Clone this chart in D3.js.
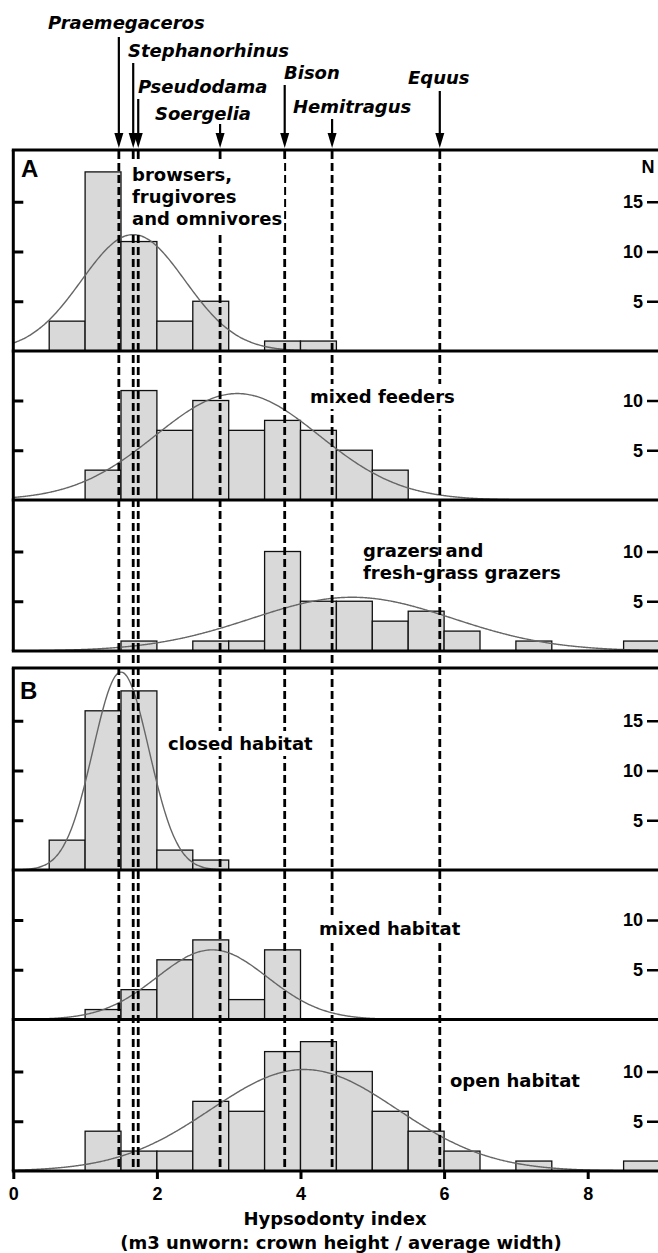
<!DOCTYPE html>
<html>
<head>
<meta charset="utf-8">
<script src="https://cdnjs.cloudflare.com/ajax/libs/d3/7.8.5/d3.min.js"></script>
<style>
  body { margin: 0; background: #fff; }
  svg { display: block; }
</style>
</head>
<body>
<svg id="chart"></svg>
<script>
// histogram bins (start of each 0.5-wide bin of the hypsodonty index)
const binStarts = [0, 0.5, 1, 1.5, 2, 2.5, 3, 3.5, 4, 4.5, 5, 5.5, 6, 6.5, 7, 7.5, 8, 8.5];
const binWidth = 0.5;

// counts per bin, A: diet groups
const browsersCounts     = [0, 3, 18, 11, 3, 5, 0, 1, 1, 0, 0, 0, 0, 0, 0, 0, 0, 0];
const mixedFeedersCounts = [0, 0, 3, 11, 7, 10, 7, 8, 7, 5, 3, 0, 0, 0, 0, 0, 0, 0];
const grazersCounts      = [0, 0, 0, 1, 0, 1, 1, 10, 5, 5, 3, 4, 2, 0, 1, 0, 0, 1];
// counts per bin, B: habitat groups
const closedCounts       = [0, 3, 16, 18, 2, 1, 0, 0, 0, 0, 0, 0, 0, 0, 0, 0, 0, 0];
const mixedHabCounts     = [0, 0, 1, 3, 6, 8, 2, 7, 0, 0, 0, 0, 0, 0, 0, 0, 0, 0];
const openCounts         = [0, 0, 4, 2, 2, 7, 6, 12, 13, 10, 6, 4, 2, 0, 1, 0, 0, 1];

// fitted normal curves: [mean, sd, peak height in N]
const browsersFit     = [1.67, 0.72, 11.7];
const mixedFeedersFit = [3.12, 1.14, 10.7];
const grazersFit      = [4.72, 1.4, 5.4];
const closedFit       = [1.5, 0.39, 19.9];
const mixedHabFit     = [2.77, 0.77, 7.0];
const openFit         = [4.05, 1.3, 10.2];

// fossil taxa and their hypsodonty index
const taxa   = ["Praemegaceros", "Stephanorhinus", "Pseudodama", "Soergelia", "Bison", "Hemitragus", "Equus"];
const taxaHI = [1.47, 1.67, 1.74, 2.88, 3.78, 4.44, 5.94];

const xTicks = [0, 2, 4, 6, 8];
const tallTicks = [5, 10, 15];
const shortTicks = [5, 10];

const W = 658, H = 1253;
const wordFont = "DejaVu Sans, sans-serif";
const numFont = "Liberation Sans, Arial, sans-serif";

const svg = d3.select('#chart').attr('width', W).attr('height', H);
svg.append('rect').attr('width', W).attr('height', H).attr('fill', '#fff');

const x = d3.scaleLinear().domain([0, 9]).range([13.3, 13.3 + 9 * 71.8]);
const perN = 9.95;
const rightX = 660;

const panels = [
  { counts: browsersCounts, fit: browsersFit, base: 351, ticks: tallTicks,
    label: ["browsers,", "frugivores", "and omnivores"], lx: 132, ly: 181, box: true },
  { counts: mixedFeedersCounts, fit: mixedFeedersFit, base: 500, ticks: shortTicks,
    label: ["mixed feeders"], lx: 310, ly: 403, box: true },
  { counts: grazersCounts, fit: grazersFit, base: 651, ticks: shortTicks,
    label: ["grazers and", "fresh-grass grazers"], lx: 363, ly: 557, box: false },
  { counts: closedCounts, fit: closedFit, base: 870, ticks: tallTicks,
    label: ["closed habitat"], lx: 168, ly: 750, box: true },
  { counts: mixedHabCounts, fit: mixedHabFit, base: 1019.5, ticks: shortTicks,
    label: ["mixed habitat"], lx: 319, ly: 935, box: true },
  { counts: openCounts, fit: openFit, base: 1171, ticks: shortTicks,
    label: ["open habitat"], lx: 450, ly: 1087, box: false }
];

const curveXs = d3.range(0, 9.3, 0.02);

panels.forEach(p => {
  const y = d3.scaleLinear().domain([0, 1]).range([p.base, p.base - perN]);
  const g = svg.append('g');

  const bars = binStarts.map((b, i) => ({ b: b, n: p.counts[i] })).filter(d => d.n > 0);
  g.selectAll('rect.bar')
    .data(bars)
    .enter()
    .append('rect')
    .attr('class', 'bar')
    .attr('x', d => x(d.b))
    .attr('y', d => y(d.n))
    .attr('width', d => x(d.b + binWidth) - x(d.b))
    .attr('height', d => p.base - y(d.n))
    .attr('fill', '#d9d9d9')
    .attr('stroke', '#111')
    .attr('stroke-width', 1.3);

  const [mu, sd, peak] = p.fit;
  const line = d3.line()
    .x(v => x(v))
    .y(v => y(peak * Math.exp(-((v - mu) ** 2) / (2 * sd * sd))))
    .curve(d3.curveBasis);
  g.append('path')
    .attr('d', line(curveXs))
    .attr('fill', 'none')
    .attr('stroke', '#666')
    .attr('stroke-width', 1.4);

  p.y = y;
});

// dashed reference lines for fossil taxa
svg.selectAll('line.taxon')
  .data(taxaHI)
  .enter()
  .append('line')
  .attr('x1', d => x(d)).attr('x2', d => x(d))
  .attr('y1', 151).attr('y2', 1171)
  .attr('stroke', '#000')
  .attr('stroke-width', 2.8)
  .attr('stroke-dasharray', '8,4');

// frames
const frame = svg.append('g').attr('stroke', '#000').attr('stroke-width', 3);
[150, 351, 500, 651, 668, 870, 1019.5, 1171].forEach(yy => {
  frame.append('line').attr('x1', x(0) - 1.5).attr('x2', W + 5).attr('y1', yy).attr('y2', yy);
});
frame.append('line').attr('x1', x(0)).attr('x2', x(0)).attr('y1', 150).attr('y2', 651);
frame.append('line').attr('x1', x(0)).attr('x2', x(0)).attr('y1', 668).attr('y2', 1171);

// y ticks: inside on the left (no labels), labelled on the right
panels.forEach(p => {
  const left = svg.append('g')
    .attr('transform', `translate(${x(0)},0)`)
    .call(d3.axisRight(p.y).tickValues(p.ticks).tickSize(10).tickFormat(''));
  left.select('.domain').remove();
  left.selectAll('line').attr('stroke-width', 3);

  const right = svg.append('g')
    .attr('transform', `translate(${rightX},0)`)
    .call(d3.axisLeft(p.y).tickValues(p.ticks).tickSize(13).tickPadding(4).tickFormat(d3.format('d')));
  right.select('.domain').remove();
  right.selectAll('line').attr('stroke-width', 2.5);
  right.selectAll('text')
    .attr('font-family', numFont).attr('font-weight', 'bold')
    .attr('font-size', 18).attr('fill', '#000');

  const lg = svg.append('g');
  const t = lg.append('text')
    .attr('font-family', wordFont).attr('font-weight', 'bold')
    .attr('font-size', 18).attr('fill', '#000');
  p.label.forEach((s, i) => {
    t.append('tspan').attr('x', p.lx).attr('y', p.ly + i * 22).text(s);
  });
  if (p.box) {
    const bb = t.node().getBBox();
    lg.insert('rect', 'text')
      .attr('x', bb.x - 2).attr('y', bb.y - 2)
      .attr('width', bb.width + 4).attr('height', bb.height + 4)
      .attr('fill', '#fff');
  }
});

svg.append('text').attr('x', 648).attr('y', 173).attr('text-anchor', 'middle')
  .attr('font-family', numFont).attr('font-weight', 'bold').attr('font-size', 18).text('N');

svg.append('text').attr('x', 21).attr('y', 177)
  .attr('font-family', numFont).attr('font-weight', 'bold').attr('font-size', 24).text('A');
svg.append('text').attr('x', 20).attr('y', 699)
  .attr('font-family', numFont).attr('font-weight', 'bold').attr('font-size', 24).text('B');

// x axis
const xAxis = svg.append('g')
  .attr('transform', 'translate(0,1171)')
  .call(d3.axisBottom(x).tickValues(xTicks).tickSize(8).tickPadding(8).tickFormat(d3.format('d')));
xAxis.select('.domain').remove();
xAxis.selectAll('line').attr('stroke-width', 3);
xAxis.selectAll('text')
  .attr('font-family', numFont).attr('font-weight', 'bold')
  .attr('font-size', 18).attr('fill', '#000');

svg.append('text').attr('x', 335).attr('y', 1225).attr('text-anchor', 'middle')
  .attr('font-family', wordFont).attr('font-weight', 'bold').attr('font-size', 18)
  .text('Hypsodonty index');
svg.append('text').attr('x', 341).attr('y', 1249).attr('text-anchor', 'middle')
  .attr('font-family', wordFont).attr('font-weight', 'bold').attr('font-size', 18)
  .text('(m3 unworn: crown height / average width)');

// taxon names with arrows
const labelPos = {
  Praemegaceros: [48, 29, 37], Stephanorhinus: [128, 57, 63], Pseudodama: [138, 93, 99],
  Soergelia: [155, 120, 124], Bison: [284, 79, 85], Hemitragus: [293, 113, 119], Equus: [408, 84, 91]
};
taxa.forEach((name, i) => {
  const [tx, ty, top] = labelPos[name];
  const ax = x(taxaHI[i]);
  svg.append('text').attr('x', tx).attr('y', ty)
    .attr('font-family', wordFont).attr('font-weight', 'bold').attr('font-style', 'italic')
    .attr('font-size', 18).text(name);
  svg.append('line').attr('x1', ax).attr('x2', ax).attr('y1', top).attr('y2', 136)
    .attr('stroke', '#000').attr('stroke-width', 2.2);
  svg.append('path')
    .attr('d', `M${ax - 4.5},133 L${ax + 4.5},133 L${ax},148 Z`)
    .attr('fill', '#000');
});
</script>
</body>
</html>
